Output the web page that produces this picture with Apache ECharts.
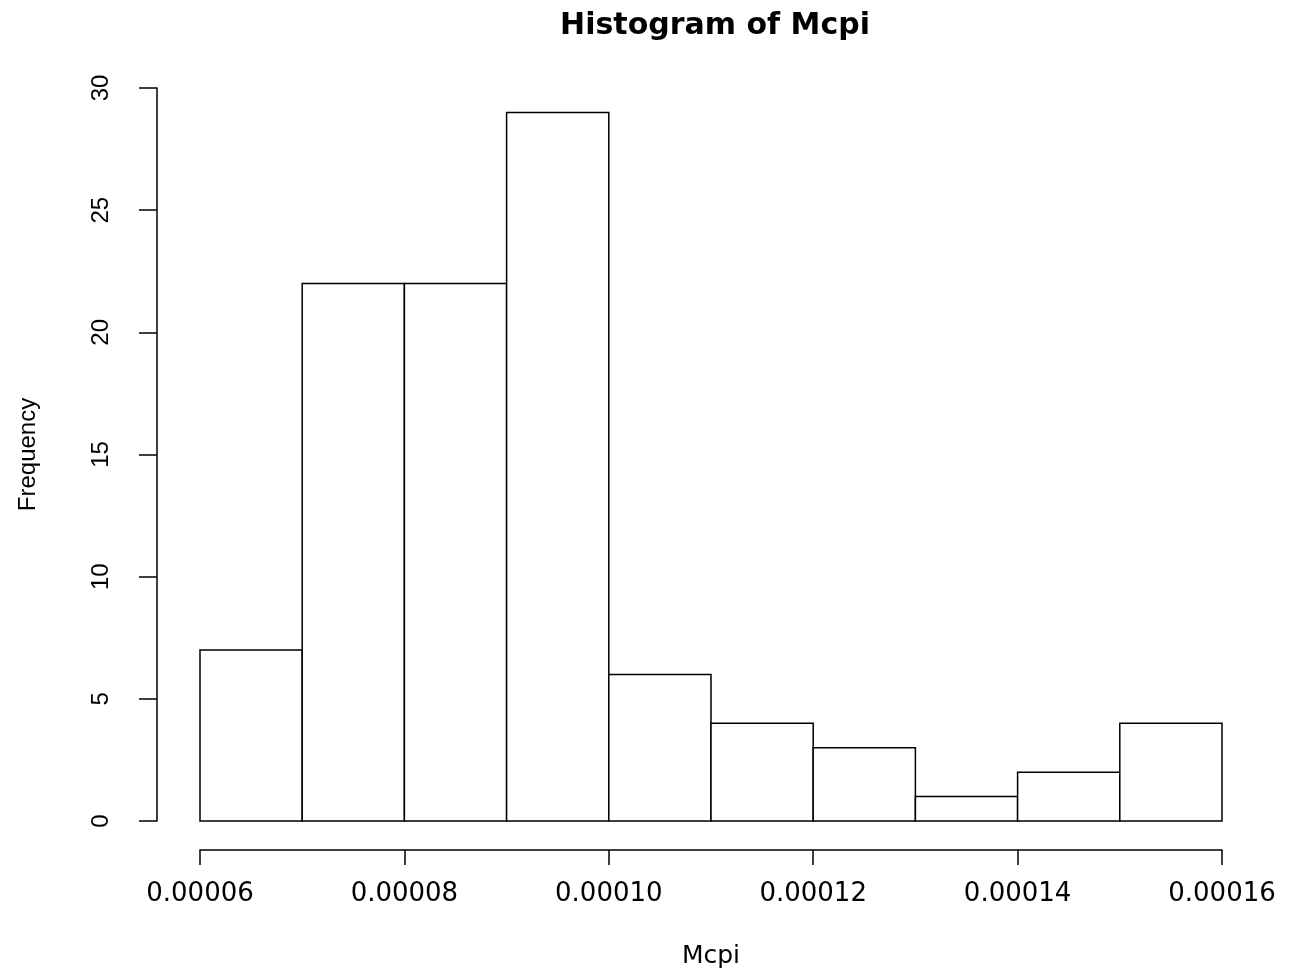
<!DOCTYPE html>
<html>
<head>
<meta charset="utf-8">
<script src="https://cdn.jsdelivr.net/npm/echarts@6/dist/echarts.min.js"></script>
<style>html,body{margin:0;padding:0;background:#fff;}#c{width:1289px;height:972px;}</style>
</head>
<body>
<div id="c"></div>
<script>
const binStart = [0.00006, 0.00007, 0.00008, 0.00009, 0.00010, 0.00011, 0.00012, 0.00013, 0.00014, 0.00015];
const binEnd   = [0.00007, 0.00008, 0.00009, 0.00010, 0.00011, 0.00012, 0.00013, 0.00014, 0.00015, 0.00016];
const counts   = [7, 22, 22, 29, 6, 4, 3, 1, 2, 4];
const xTicks = [0.00006, 0.00008, 0.00010, 0.00012, 0.00014, 0.00016];

const chart = echarts.init(document.getElementById('c'), null, {renderer: 'canvas'});
const data = counts.map((c, i) => [binStart[i], binEnd[i], c]);
chart.setOption({
  animation: false,
  backgroundColor: '#fff',
  title: {
    text: 'Histogram of Mcpi', left: 710, top: 6, textAlign: 'center',
    textStyle: {fontFamily: 'DejaVu Sans', fontWeight: 'bold', fontSize: 30, color: '#000'}
  },
  grid: {left: 200, right: 67, top: 88, bottom: 151, containLabel: false, outerBoundsMode: 'none'},
  xAxis: {
    type: 'value', min: 0.00006, max: 0.00016, interval: 0.00002, offset: 29,
    name: 'Mcpi', nameLocation: 'middle', nameGap: 94,
    nameTextStyle: {fontFamily: 'DejaVu Sans', fontSize: 25, color: '#000'},
    axisLine: {show: true, onZero: false, lineStyle: {color: '#000', width: 1.5}},
    axisTick: {show: true, length: 15, lineStyle: {color: '#000', width: 1.5}},
    axisLabel: {
      margin: 31, color: '#000', fontFamily: 'DejaVu Sans', fontSize: 26,
      formatter: v => v.toFixed(5)
    },
    splitLine: {show: false}
  },
  yAxis: {
    type: 'value', min: 0, max: 30, interval: 5, offset: 43,
    name: 'Frequency', nameLocation: 'middle', nameGap: 117, nameRotate: 90,
    nameTextStyle: {fontFamily: 'Liberation Sans', fontSize: 24, color: '#000'},
    axisLine: {show: true, onZero: false, lineStyle: {color: '#000', width: 1.5}},
    axisTick: {show: true, length: 18, lineStyle: {color: '#000', width: 1.5}},
    axisLabel: {margin: 44, rotate: 90, color: '#000', fontFamily: 'Liberation Sans', fontSize: 24},
    splitLine: {show: false}
  },
  series: [{
    type: 'custom',
    data: data,
    encode: {x: [0, 1], y: 2},
    renderItem: function (params, api) {
      const p0 = api.coord([api.value(0), 0]);
      const p1 = api.coord([api.value(1), api.value(2)]);
      return {
        type: 'rect',
        shape: {x: p0[0], y: p1[1], width: p1[0] - p0[0], height: p0[1] - p1[1]},
        style: {fill: '#fff', stroke: '#000', lineWidth: 1.5}
      };
    }
  }]
});
</script>
</body>
</html>
